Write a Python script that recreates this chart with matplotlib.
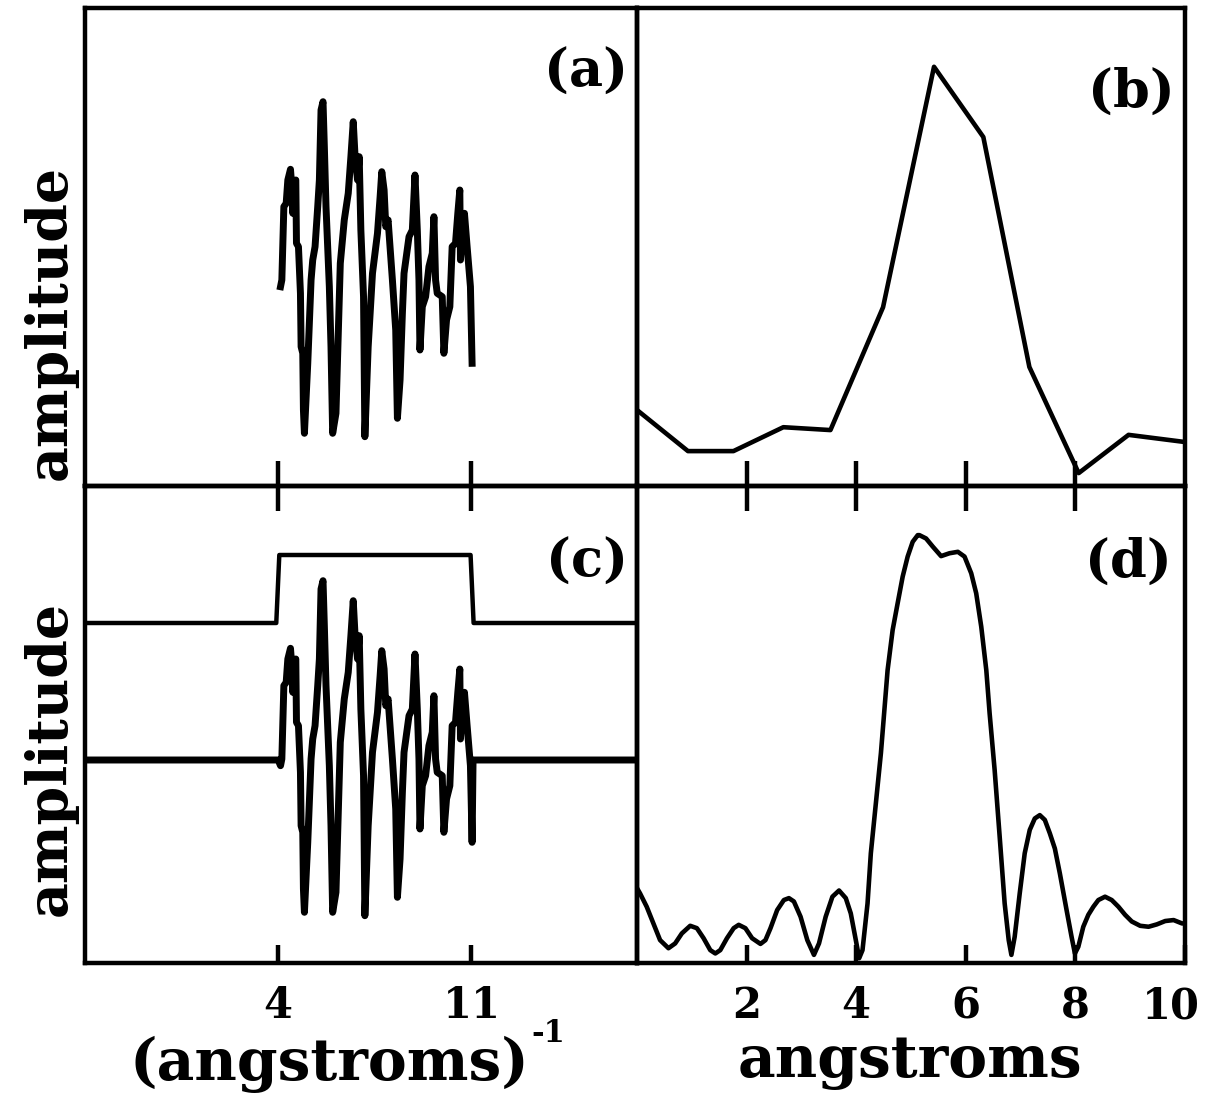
import matplotlib
matplotlib.use("Agg")
import matplotlib.pyplot as plt
import matplotlib.transforms as mtransforms

plt.rcParams['font.family'] = ['DejaVu Serif']
plt.rcParams['font.weight'] = 'bold'

# ---- data: panel (a)/(c) signal, k in inverse angstroms ----
k_signal = [4.084, 4.132, 4.205, 4.289, 4.349, 4.445, 4.493, 4.529, 4.553, 4.638,
            4.662, 4.734, 4.806, 4.830, 4.890, 4.914, 4.950, 5.071, 5.191, 5.251,
            5.335, 5.432, 5.492, 5.552, 5.624, 5.672, 5.732, 5.853, 5.913, 5.973,
            6.093, 6.250, 6.394, 6.538, 6.634, 6.719, 6.779, 6.875, 6.935, 6.995,
            7.092, 7.140, 7.260, 7.416, 7.597, 7.693, 7.753, 7.837, 7.898, 7.982,
            8.138, 8.258, 8.319, 8.415, 8.499, 8.559, 8.740, 8.860, 8.956, 9.040,
            9.100, 9.136, 9.221, 9.341, 9.461, 9.582, 9.642, 9.702, 9.762, 9.943,
            10.003, 10.099, 10.219, 10.303, 10.424, 10.508, 10.580, 10.604, 10.664, 10.748,
            10.845, 10.965, 11.025]
amp_signal = [-0.057, 0.010, 0.743, 0.777, 1.010, 1.117, 0.943, 0.677, 0.977, 1.010,
              0.377, 0.343, -0.123, -0.657, -0.723, -1.290, -1.523, -0.823, 0.010, 0.210,
              0.343, 0.743, 1.010, 1.710, 1.793, 1.343, 0.743, -0.057, -0.657, -1.523,
              -1.323, 0.177, 0.610, 0.877, 1.243, 1.593, 1.277, 1.010, 1.243, 0.510,
              -0.157, -1.557, -0.657, 0.077, 0.477, 0.843, 1.093, 0.910, 0.543, 0.610,
              0.010, -0.490, -1.373, -0.990, -0.323, 0.077, 0.443, 0.510, 1.060, 0.510,
              0.010, -0.690, -0.257, -0.157, 0.143, 0.277, 0.643, 0.010, -0.123, -0.157,
              -0.723, -0.390, -0.257, 0.343, 0.377, 0.677, 0.910, 0.210, 0.510, 0.677,
              0.343, -0.057, -0.823]

# window function in panel (c) (drawn offset above the signal)
k_window = [-3.0, 3.93, 4.04, 10.97, 11.08, 17.0]
window_level = [1.37, 1.37, 2.05, 2.05, 1.37, 1.37]

# ---- panel (b): Fourier transform of raw data ----
r_b = [0.0, 0.93, 1.76, 2.67, 3.53, 4.49, 5.42, 6.32, 7.16, 8.06, 8.97, 10.0]
ft_b = [0.159, 0.073, 0.073, 0.123, 0.117, 0.374, 0.877, 0.730, 0.249, 0.027, 0.107, 0.092]

# ---- panel (d): Fourier transform of windowed data ----
r_d = [0.0, 0.055, 0.177, 0.299, 0.421, 0.574, 0.696, 0.818, 0.971, 1.093,
       1.215, 1.337, 1.429, 1.520, 1.642, 1.764, 1.856, 1.978, 2.100, 2.253,
       2.344, 2.436, 2.558, 2.680, 2.772, 2.863, 2.985, 3.108, 3.229, 3.321,
       3.443, 3.566, 3.687, 3.810, 3.901, 3.993, 4.054, 4.115, 4.207, 4.267,
       4.359, 4.451, 4.573, 4.665, 4.756, 4.848, 4.939, 5.031, 5.123, 5.153,
       5.275, 5.397, 5.549, 5.702, 5.855, 5.977, 6.099, 6.190, 6.282, 6.374,
       6.435, 6.526, 6.618, 6.709, 6.783, 6.832, 6.892, 6.984, 7.075, 7.167,
       7.259, 7.350, 7.442, 7.533, 7.625, 7.716, 7.839, 7.930, 7.991, 8.053,
       8.144, 8.236, 8.328, 8.419, 8.541, 8.663, 8.785, 8.907, 9.029, 9.182,
       9.335, 9.487, 9.639, 9.792, 9.945, 10.0]
ft_d = [0.157, 0.146, 0.118, 0.083, 0.048, 0.031, 0.041, 0.062, 0.078, 0.073,
        0.052, 0.027, 0.020, 0.027, 0.052, 0.073, 0.080, 0.073, 0.052, 0.040,
        0.048, 0.073, 0.111, 0.132, 0.136, 0.129, 0.097, 0.048, 0.017, 0.041,
        0.097, 0.139, 0.152, 0.136, 0.104, 0.048, 0.010, 0.027, 0.125, 0.230,
        0.335, 0.440, 0.614, 0.698, 0.754, 0.810, 0.852, 0.883, 0.897, 0.897,
        0.890, 0.873, 0.853, 0.859, 0.862, 0.852, 0.817, 0.775, 0.705, 0.614,
        0.523, 0.405, 0.265, 0.125, 0.048, 0.017, 0.055, 0.146, 0.230, 0.279,
        0.303, 0.310, 0.300, 0.272, 0.240, 0.188, 0.111, 0.055, 0.020, 0.034,
        0.076, 0.101, 0.118, 0.132, 0.139, 0.132, 0.118, 0.101, 0.087, 0.078,
        0.076, 0.081, 0.088, 0.090, 0.083, 0.083]

left_ticks = [4, 11]
left_ticklabels = ['4', '11']
right_ticks = [2, 4, 6, 8, 10]
right_ticklabels = ['2', '4', '6', '8', '10']

# ---- figure ----
W, H = 1227, 1110
fig = plt.figure(figsize=(W / 100, H / 100), dpi=100)

xl, xm, xr = 85 / W, 637 / W, 1185 / W
yb, ym, yt = 1 - 963 / H, 1 - 486 / H, 1 - 8 / H

ax_a = fig.add_axes([xl, ym, xm - xl, yt - ym])
ax_b = fig.add_axes([xm, ym, xr - xm, yt - ym])
ax_c = fig.add_axes([xl, yb, xm - xl, ym - yb])
ax_d = fig.add_axes([xm, yb, xr - xm, ym - yb])

LW_FRAME = 3.2
for ax in (ax_a, ax_b, ax_c, ax_d):
    ax.set_facecolor('none')
    for s in ax.spines.values():
        s.set_linewidth(LW_FRAME)
    ax.set_yticks([])

# panel (a)
ax_a.plot(k_signal, amp_signal, color='black', lw=5.0, solid_joinstyle='round')
ax_a.set_xlim(-3, 17)
ax_a.set_ylim(-2.05, 2.73)

# panel (c)
k_c = [-3.0, 4.0] + k_signal + [11.06, 17.0]
amp_c = [0.0, 0.0] + amp_signal + [0.0, 0.0]
ax_c.plot(k_c, amp_c, color='black', lw=5.0, solid_joinstyle='round')
ax_c.plot(k_window, window_level, color='black', lw=3.2)
ax_c.set_xlim(-3, 17)
ax_c.set_ylim(-2.03, 2.74)

# panel (b)
ax_b.plot(r_b, ft_b, color='black', lw=3.3, solid_joinstyle='round')
ax_b.set_xlim(0, 10)
ax_b.set_ylim(0, 1)

# panel (d)
ax_d.plot(r_d, ft_d, color='black', lw=3.3, solid_joinstyle='round')
ax_d.set_xlim(0, 10)
ax_d.set_ylim(0, 1)

# ticks
for ax, ticks in ((ax_a, left_ticks), (ax_b, right_ticks[:-1])):
    ax.set_xticks(ticks)
    ax.tick_params(axis='x', direction='inout', length=36, width=3.2,
                   labelbottom=False)

ax_c.set_xticks(left_ticks)
ax_c.set_xticklabels(left_ticklabels)
ax_d.set_xticks(right_ticks)
ax_d.set_xticklabels(right_ticklabels)
for ax in (ax_c, ax_d):
    ax.tick_params(axis='x', direction='in', length=13, width=3.2,
                   labelsize=30, pad=16)
# last label sits slightly left of its tick, as in the original
last = ax_d.get_xticklabels()[-1]
last.set_transform(last.get_transform() +
                   mtransforms.ScaledTranslation(-14 / 100, 0, fig.dpi_scale_trans))

# panel labels
lab_kw = dict(fontsize=38, fontweight='bold', ha='right', va='center')
ax_a.text(0.984, 0.866, '(a)', transform=ax_a.transAxes, **lab_kw)
ax_b.text(0.982, 0.824, '(b)', transform=ax_b.transAxes, **lab_kw)
ax_c.text(0.984, 0.840, '(c)', transform=ax_c.transAxes, **lab_kw)
ax_d.text(0.976, 0.840, '(d)', transform=ax_d.transAxes, **lab_kw)

# axis labels
fig.text(50 / W, 1 - 322 / H, 'amplitude', rotation=90, fontsize=40,
         fontweight='bold', ha='center', va='center')
fig.text(50 / W, 1 - 758 / H, 'amplitude', rotation=90, fontsize=40,
         fontweight='bold', ha='center', va='center')
fig.text(329 / W, 1 - 1064 / H, '(angstroms)', fontsize=42,
         fontweight='bold', ha='center', va='center')
fig.text(531 / W, 1 - 1033 / H, '-1', fontsize=22,
         fontweight='bold', ha='left', va='center')
fig.text(910 / W, 1 - 1062 / H, 'angstroms', fontsize=42,
         fontweight='bold', ha='center', va='center')

fig.savefig('out.png', dpi=100, facecolor='white')
